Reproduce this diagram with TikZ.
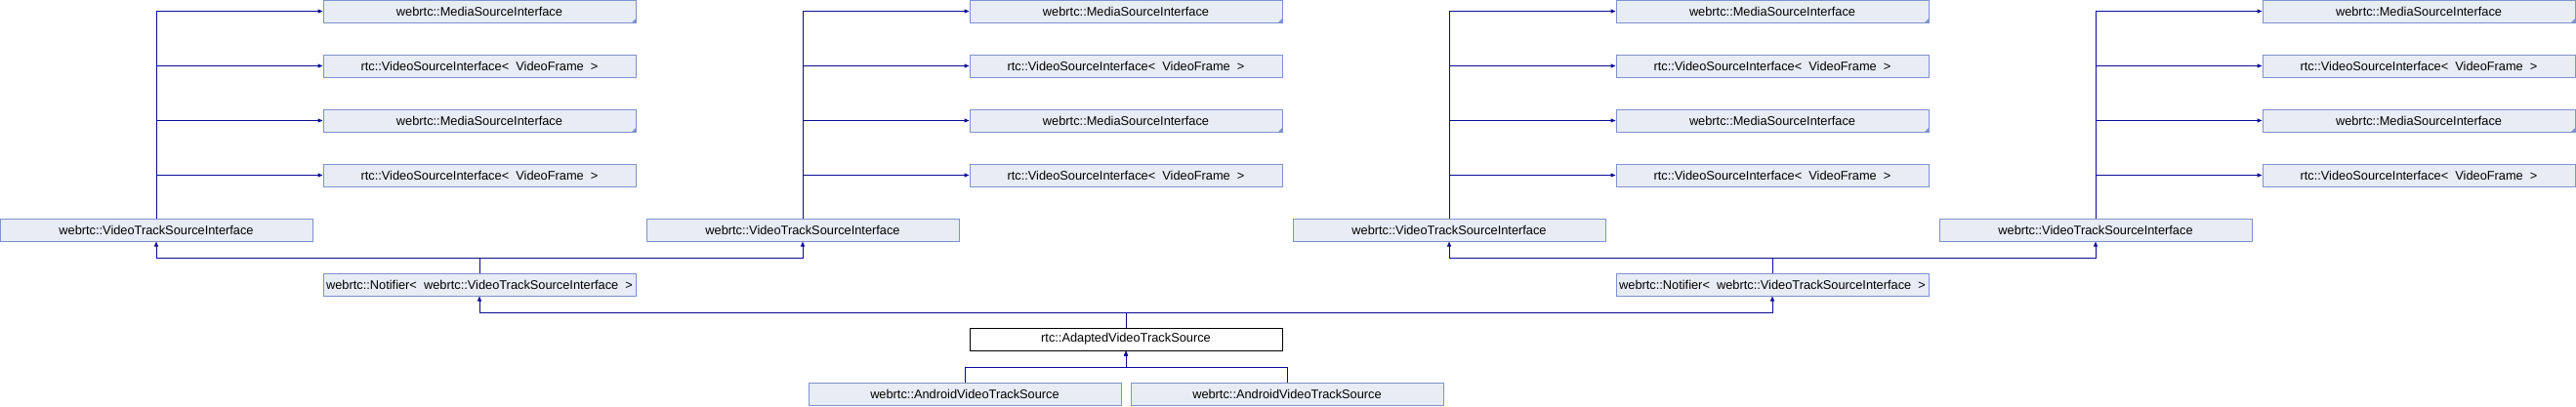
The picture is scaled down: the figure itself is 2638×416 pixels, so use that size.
\documentclass[tikz,border=0pt]{standalone}
\usepackage{fontspec}
\setmainfont{Liberation Sans}
\usetikzlibrary{arrows.meta}

\definecolor{boxfill}{HTML}{E8ECF5}
\definecolor{boxline}{HTML}{7E92CC}
\definecolor{edgeblue}{HTML}{0B0B96}

\tikzset{
  cls/.style={shape=rectangle, draw=boxline, fill=boxfill, line width=1pt,
    minimum width=320pt, minimum height=23pt, inner sep=0pt,
    font=\fontsize{12.8}{15}\selectfont},
  cur/.style={cls, draw=black, fill=white},
  edge/.style={draw=edgeblue, line width=1pt, -{Triangle[length=5pt,width=4pt]}}
}

\begin{document}
\begin{tikzpicture}[x=1pt, y=-1pt]
    \useasboundingbox (0, 0) rectangle (2638, 416);

    % group 1
    \pgfmathsetmacro{\xc}{0};
    \node [cls] (g1t) at (\xc+160, 235.5) {webrtc::VideoTrackSourceInterface};
    \node [cls] (g1a) at (\xc+491, 11.5) {webrtc::MediaSourceInterface};
    \node [cls] (g1b) at (\xc+491, 67.5) {rtc::VideoSourceInterface<\ \ VideoFrame \ >};
    \node [cls] (g1c) at (\xc+491, 123.5) {webrtc::MediaSourceInterface};
    \node [cls] (g1d) at (\xc+491, 179.5) {rtc::VideoSourceInterface<\ \ VideoFrame \ >};
    \fill [boxline] (g1a.south east) -- ++(-5, 0) -- ++(5, -5) -- cycle;
    \fill [boxline] (g1c.south east) -- ++(-5, 0) -- ++(5, -5) -- cycle;
    \draw [edge] (g1t.north) |- (g1a.west);
    \draw [edge] (g1t.north) |- (g1b.west);
    \draw [edge] (g1t.north) |- (g1c.west);
    \draw [edge] (g1t.north) |- (g1d.west);

    % group 2
    \pgfmathsetmacro{\xc}{662};
    \node [cls] (g2t) at (\xc+160, 235.5) {webrtc::VideoTrackSourceInterface};
    \node [cls] (g2a) at (\xc+491, 11.5) {webrtc::MediaSourceInterface};
    \node [cls] (g2b) at (\xc+491, 67.5) {rtc::VideoSourceInterface<\ \ VideoFrame \ >};
    \node [cls] (g2c) at (\xc+491, 123.5) {webrtc::MediaSourceInterface};
    \node [cls] (g2d) at (\xc+491, 179.5) {rtc::VideoSourceInterface<\ \ VideoFrame \ >};
    \fill [boxline] (g2a.south east) -- ++(-5, 0) -- ++(5, -5) -- cycle;
    \fill [boxline] (g2c.south east) -- ++(-5, 0) -- ++(5, -5) -- cycle;
    \draw [edge] (g2t.north) |- (g2a.west);
    \draw [edge] (g2t.north) |- (g2b.west);
    \draw [edge] (g2t.north) |- (g2c.west);
    \draw [edge] (g2t.north) |- (g2d.west);

    % group 3
    \pgfmathsetmacro{\xc}{1324};
    \node [cls] (g3t) at (\xc+160, 235.5) {webrtc::VideoTrackSourceInterface};
    \node [cls] (g3a) at (\xc+491, 11.5) {webrtc::MediaSourceInterface};
    \node [cls] (g3b) at (\xc+491, 67.5) {rtc::VideoSourceInterface<\ \ VideoFrame \ >};
    \node [cls] (g3c) at (\xc+491, 123.5) {webrtc::MediaSourceInterface};
    \node [cls] (g3d) at (\xc+491, 179.5) {rtc::VideoSourceInterface<\ \ VideoFrame \ >};
    \fill [boxline] (g3a.south east) -- ++(-5, 0) -- ++(5, -5) -- cycle;
    \fill [boxline] (g3c.south east) -- ++(-5, 0) -- ++(5, -5) -- cycle;
    \draw [edge] (g3t.north) |- (g3a.west);
    \draw [edge] (g3t.north) |- (g3b.west);
    \draw [edge] (g3t.north) |- (g3c.west);
    \draw [edge] (g3t.north) |- (g3d.west);

    % group 4
    \pgfmathsetmacro{\xc}{1986};
    \node [cls] (g4t) at (\xc+160, 235.5) {webrtc::VideoTrackSourceInterface};
    \node [cls] (g4a) at (\xc+491, 11.5) {webrtc::MediaSourceInterface};
    \node [cls] (g4b) at (\xc+491, 67.5) {rtc::VideoSourceInterface<\ \ VideoFrame \ >};
    \node [cls] (g4c) at (\xc+491, 123.5) {webrtc::MediaSourceInterface};
    \node [cls] (g4d) at (\xc+491, 179.5) {rtc::VideoSourceInterface<\ \ VideoFrame \ >};
    \fill [boxline] (g4a.south east) -- ++(-5, 0) -- ++(5, -5) -- cycle;
    \fill [boxline] (g4c.south east) -- ++(-5, 0) -- ++(5, -5) -- cycle;
    \draw [edge] (g4t.north) |- (g4a.west);
    \draw [edge] (g4t.north) |- (g4b.west);
    \draw [edge] (g4t.north) |- (g4c.west);
    \draw [edge] (g4t.north) |- (g4d.west);

    \node [cls] (n1) at (491, 291.5) {webrtc::Notifier<\ \ webrtc::VideoTrackSourceInterface \ >};
    \node [cls] (n2) at (1815, 291.5) {webrtc::Notifier<\ \ webrtc::VideoTrackSourceInterface \ >};
    \node [cur] (ad) at (1153, 347.5) {rtc::AdaptedVideoTrackSource};
    \node [cls] (an1) at (988, 403.5) {webrtc::AndroidVideoTrackSource};
    \node [cls] (an2) at (1318, 403.5) {webrtc::AndroidVideoTrackSource};

    \draw [edge] (n1.north) -- (n1.north |- 0, 264) -| (g1t.south);
    \draw [edge] (n1.north) -- (n1.north |- 0, 264) -| (g2t.south);
    \draw [edge] (n2.north) -- (n2.north |- 0, 264) -| (g3t.south);
    \draw [edge] (n2.north) -- (n2.north |- 0, 264) -| (g4t.south);
    \draw [edge] (ad.north) -- (ad.north |- 0, 320) -| (n1.south);
    \draw [edge] (ad.north) -- (ad.north |- 0, 320) -| (n2.south);
    \draw [edge] (an1.north) -- (an1.north |- 0, 376) -| (ad.south);
    \draw [edge] (an2.north) -- (an2.north |- 0, 376) -| (ad.south);
  \end{tikzpicture}
\end{document}
